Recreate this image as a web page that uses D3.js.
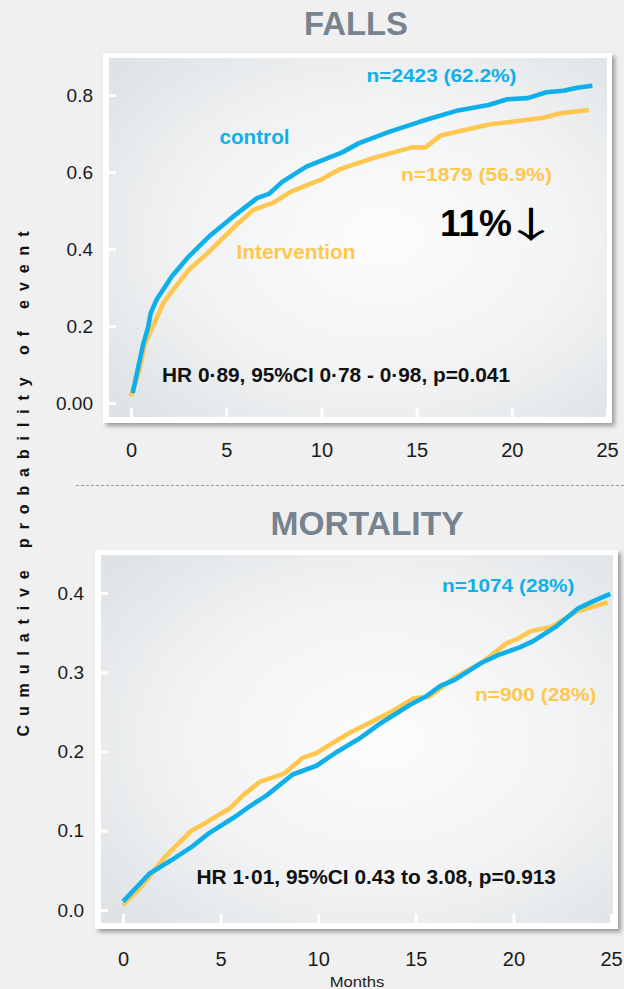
<!DOCTYPE html>
<html>
<head>
<meta charset="utf-8">
<script src="https://cdn.jsdelivr.net/npm/d3@7"></script>
<style>
  html, body { margin: 0; padding: 0; background: #f0f0f0; }
  svg { display: block; }
</style>
</head>
<body>
<svg id="chart" width="624" height="989"></svg>
<script>
// ---- Falls: cumulative probability of a fall, by month ----
const fallsControlMonths = [0.09, 0.63, 0.89, 1.04, 1.34, 2.15, 3.04, 4.11, 5.36, 6.62, 7.24, 7.96, 9.21, 11.09, 11.98, 13.59, 15.2, 17.17, 18.78, 19.76, 20.83, 21.82, 22.71, 23.43, 24.23];
const fallsControlValues = [0.026, 0.151, 0.195, 0.234, 0.268, 0.329, 0.381, 0.433, 0.484, 0.532, 0.543, 0.575, 0.614, 0.651, 0.675, 0.705, 0.731, 0.760, 0.774, 0.789, 0.792, 0.807, 0.811, 0.819, 0.824];
const fallsInterventionMonths = [0, 0.45, 0.72, 1.70, 2.15, 3.04, 3.93, 4.92, 5.54, 6.44, 7.42, 8.40, 10.01, 10.91, 12.70, 13.95, 14.75, 15.47, 16.27, 17.52, 18.87, 20.12, 21.64, 22.62, 24.05];
const fallsInterventionValues = [0.017, 0.087, 0.151, 0.260, 0.290, 0.346, 0.385, 0.433, 0.463, 0.502, 0.519, 0.549, 0.581, 0.606, 0.636, 0.653, 0.664, 0.664, 0.695, 0.709, 0.724, 0.731, 0.741, 0.753, 0.761];

// ---- Mortality: cumulative probability of death, by month ----
const mortalityControlMonths = [0, 1.36, 2.49, 3.54, 4.41, 5.64, 6.51, 7.38, 8.69, 9.91, 10.87, 12.09, 13.22, 14.71, 15.49, 16.28, 16.97, 18.37, 19.24, 20.29, 20.99, 22.21, 23.34, 24.13, 24.96];
const mortalityControlValues = [0.0105, 0.046, 0.063, 0.080, 0.097, 0.116, 0.131, 0.145, 0.171, 0.182, 0.198, 0.216, 0.236, 0.259, 0.269, 0.283, 0.290, 0.312, 0.322, 0.331, 0.339, 0.358, 0.381, 0.390, 0.399];
const mortalityInterventionMonths = [0, 0.92, 2.15, 3.45, 4.50, 5.46, 6.16, 7.03, 8.25, 9.21, 9.91, 11.57, 12.79, 13.66, 14.88, 15.67, 16.97, 18.37, 19.68, 20.20, 20.90, 21.95, 23.26, 24.83];
const mortalityInterventionValues = [0.006, 0.029, 0.067, 0.099, 0.114, 0.128, 0.145, 0.162, 0.172, 0.192, 0.198, 0.223, 0.238, 0.249, 0.267, 0.269, 0.293, 0.312, 0.337, 0.342, 0.352, 0.357, 0.377, 0.388];

// ---- Axis ticks ----
const monthTicks = [0, 5, 10, 15, 20, 25];
const fallsTicks = [0, 0.2, 0.4, 0.6, 0.8];
const fallsTickLabels = ["0.00", "0.2", "0.4", "0.6", "0.8"];
const mortalityTicks = [0, 0.1, 0.2, 0.3, 0.4];
const mortalityTickLabels = ["0.0", "0.1", "0.2", "0.3", "0.4"];

const BLUE = "#0fb0ea";
const YELLOW = "#ffc74f";
const FONT = "'Liberation Sans', Arial, Helvetica, sans-serif";

const svg = d3.select("#chart");
svg.append("rect").attr("width", 624).attr("height", 989).attr("fill", "#f0f0f0");

const defs = svg.append("defs");
const shadow = defs.append("filter").attr("id", "frameShadow")
  .attr("x", "-5%").attr("y", "-5%").attr("width", "112%").attr("height", "114%");
shadow.append("feDropShadow").attr("dx", 3).attr("dy", 3).attr("stdDeviation", 2.2)
  .attr("flood-color", "#555").attr("flood-opacity", 0.55);

const grad = defs.append("radialGradient").attr("id", "plotBg")
  .attr("cx", "55%").attr("cy", "50%").attr("r", "70%");
grad.append("stop").attr("offset", "0%").attr("stop-color", "#fcfcfc");
grad.append("stop").attr("offset", "55%").attr("stop-color", "#f2f3f4");
grad.append("stop").attr("offset", "100%").attr("stop-color", "#dfe3e6");

function addText(g, o) {
  const t = g.append("text")
    .attr("x", o.x).attr("y", o.y)
    .attr("font-family", o.family || FONT)
    .attr("font-size", o.size)
    .attr("font-weight", o.weight || "bold")
    .attr("fill", o.fill)
    .attr("text-anchor", o.anchor || "start")
    .text(o.text);
  if (o.len) t.attr("textLength", o.len).attr("lengthAdjust", "spacingAndGlyphs");
  return t;
}

function drawPanel(p) {
  const g = svg.append("g");
  // white frame with drop shadow
  g.append("rect")
    .attr("x", p.outer[0]).attr("y", p.outer[1])
    .attr("width", p.outer[2] - p.outer[0]).attr("height", p.outer[3] - p.outer[1])
    .attr("fill", "#ffffff").attr("filter", "url(#frameShadow)");
  // plot area
  g.append("rect")
    .attr("x", p.inner[0]).attr("y", p.inner[1])
    .attr("width", p.inner[2] - p.inner[0]).attr("height", p.inner[3] - p.inner[1])
    .attr("fill", "url(#plotBg)");

  const x = d3.scaleLinear().domain([0, 25]).range(p.xRange);
  const y = d3.scaleLinear().domain(p.yDomain).range(p.yRange);

  // y axis: white ticks pointing into the plot, labels outside
  const yAxis = g.append("g")
    .attr("transform", `translate(${p.inner[0]},0)`)
    .call(d3.axisLeft(y).tickValues(p.yTicks)
      .tickFormat((d, i) => p.yLabels[i]).tickSize(-7).tickPadding(p.yPad));
  yAxis.select(".domain").remove();
  yAxis.selectAll(".tick line").attr("stroke", "#ffffff").attr("stroke-width", 3);
  yAxis.selectAll(".tick text").attr("font-family", FONT).attr("font-size", 19).attr("fill", "#1a1a1a");

  // x axis
  const xAxis = g.append("g")
    .attr("transform", `translate(0,${p.inner[3]})`)
    .call(d3.axisBottom(x).tickValues(monthTicks).tickSize(-9).tickPadding(p.xPad));
  xAxis.select(".domain").remove();
  xAxis.selectAll(".tick line").attr("stroke", "#ffffff").attr("stroke-width", 3).attr("y1", 6);
  xAxis.selectAll(".tick text").attr("font-family", FONT).attr("font-size", 20).attr("fill", "#1a1a1a");

  const line = d3.line().x(d => x(d[0])).y(d => y(d[1]));
  const series = [
    { months: p.intMonths, values: p.intValues, color: YELLOW },
    { months: p.ctlMonths, values: p.ctlValues, color: BLUE }
  ];
  series.forEach(s => {
    g.append("path")
      .datum(s.months.map((m, i) => [m, s.values[i]]))
      .attr("d", line)
      .attr("fill", "none")
      .attr("stroke", s.color)
      .attr("stroke-width", 4.6)
      .attr("stroke-linejoin", "round");
  });

  p.labels.forEach(o => addText(g, o));
  if (p.extra) p.extra(g);
  addText(svg, p.title);
}

// Falls panel
drawPanel({
  outer: [103, 53, 612, 423],
  inner: [109, 58, 607, 417],
  xRange: [131, 607],
  yDomain: [0, 0.8],
  yRange: [403, 95],
  yTicks: fallsTicks,
  yLabels: fallsTickLabels,
  yPad: 16,
  xPad: 26,
  ctlMonths: fallsControlMonths, ctlValues: fallsControlValues,
  intMonths: fallsInterventionMonths, intValues: fallsInterventionValues,
  title: { x: 356, y: 35, size: 34, fill: "#77838f", anchor: "middle", text: "FALLS", len: 104 },
  labels: [
    { x: 366.5, y: 81.5, size: 19, fill: BLUE, text: "n=2423 (62.2%)", len: 150 },
    { x: 219.5, y: 144, size: 20, fill: BLUE, text: "control", len: 70 },
    { x: 401, y: 180.5, size: 19, fill: YELLOW, text: "n=1879 (56.9%)", len: 151 },
    { x: 236.5, y: 258.5, size: 20, fill: YELLOW, text: "Intervention", len: 119 },
    { x: 162, y: 381.5, size: 20, fill: "#111", text: "HR 0\u00b789, 95%CI 0\u00b778 - 0\u00b798, p=0.041", len: 348 }
  ],
  // "11%" with a thin down arrow, kept as one text element
  extra: g => {
    const t = g.append("text")
      .attr("x", 440).attr("y", 236)
      .attr("font-family", FONT).attr("font-size", 37).attr("font-weight", "bold")
      .attr("fill", "#000");
    t.append("tspan").text("11%");
    t.append("tspan")
      .attr("dx", -10).attr("dy", 2)
      .attr("font-family", "'Noto Sans CJK JP', 'DejaVu Sans', sans-serif")
      .attr("font-weight", "normal").attr("font-size", 36)
      .attr("textLength", 58).attr("lengthAdjust", "spacingAndGlyphs")
      .text("\u2193");
  }
});

// Mortality panel
drawPanel({
  outer: [95, 550, 618, 929],
  inner: [101, 555, 613, 923],
  xRange: [123, 611],
  yDomain: [0, 0.4],
  yRange: [910, 593],
  yTicks: mortalityTicks,
  yLabels: mortalityTickLabels,
  yPad: 17,
  xPad: 29,
  ctlMonths: mortalityControlMonths, ctlValues: mortalityControlValues,
  intMonths: mortalityInterventionMonths, intValues: mortalityInterventionValues,
  title: { x: 367, y: 535, size: 34, fill: "#77838f", anchor: "middle", text: "MORTALITY", len: 193 },
  labels: [
    { x: 442, y: 591.5, size: 19, fill: BLUE, text: "n=1074 (28%)", len: 132.5 },
    { x: 475, y: 700.5, size: 19, fill: YELLOW, text: "n=900 (28%)", len: 121.5 },
    { x: 196.5, y: 884, size: 20, fill: "#111", text: "HR 1\u00b701, 95%CI 0.43 to 3.08, p=0.913", len: 359.5 }
  ]
});

// separator between the two panels
svg.append("line")
  .attr("x1", 76).attr("x2", 624).attr("y1", 485.5).attr("y2", 485.5)
  .attr("stroke", "#9a9a9a").attr("stroke-width", 1).attr("stroke-dasharray", "3,2");

// shared axis titles
svg.append("text")
  .attr("transform", "translate(29,484) rotate(-90)")
  .attr("text-anchor", "middle")
  .attr("font-family", FONT).attr("font-size", 16).attr("font-weight", "bold")
  .attr("fill", "#111")
  .attr("textLength", 505).attr("lengthAdjust", "spacing")
  .text("Cumulative probability of event");

addText(svg, { x: 357, y: 986.5, size: 14.5, weight: "normal", fill: "#222", anchor: "middle", text: "Months", len: 54.5 });
</script>
</body>
</html>
